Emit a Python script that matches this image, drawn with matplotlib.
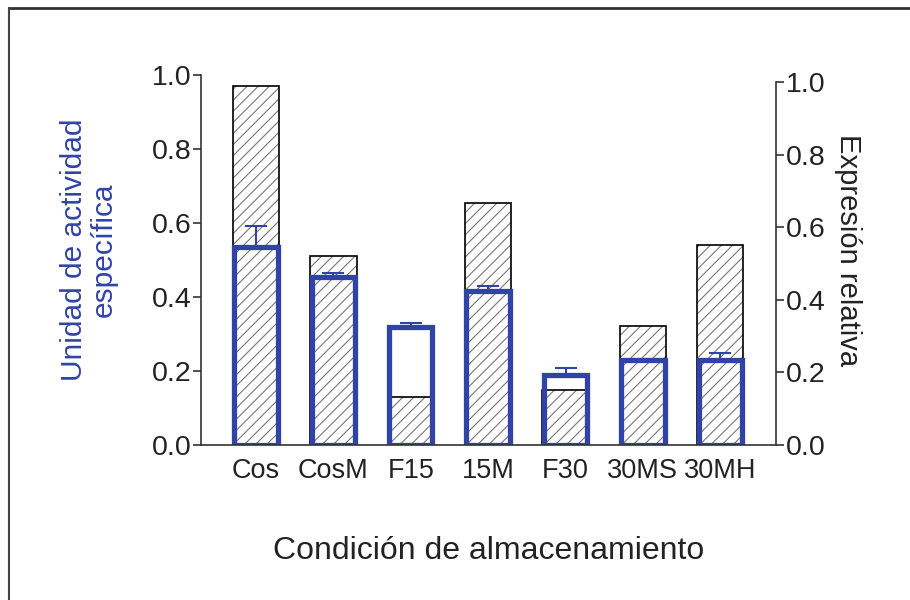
import numpy as np
import matplotlib.pyplot as plt
from matplotlib.lines import Line2D

# data
conditions = ['Cos', 'CosM', 'F15', '15M', 'F30', '30MS', '30MH']
actividad = [0.536, 0.453, 0.318, 0.415, 0.189, 0.229, 0.229]
actividad_err = [0.057, 0.013, 0.013, 0.016, 0.020, 0.004, 0.020]
expresion = [0.99, 0.52, 0.133, 0.668, 0.152, 0.329, 0.55]

blue = '#3243A8'
plt.rcParams['font.family'] = ['Liberation Sans', 'DejaVu Sans']
plt.rcParams['hatch.linewidth'] = 0.8

fig = plt.figure(figsize=(9.1, 6), dpi=100)
ax = fig.add_axes([201 / 910, 1 - 445 / 600, 575 / 910, 370 / 600])
ax2 = ax.twinx()

x = np.arange(len(conditions))

# hatched bars (expresion relativa, right axis)
ax2.bar(x, expresion, width=0.6, color='white', edgecolor='#777777',
        hatch='///', linewidth=0)
ax2.bar(x, expresion, width=0.6, fill=False, edgecolor='black', linewidth=1.2)
ax2.set_ylim(0, 1 / 0.981)
ax2.set_yticks([0.0, 0.2, 0.4, 0.6, 0.8, 1.0])
ax2.set_yticklabels(['0.0', '0.2', '0.4', '0.6', '0.8', '1.0'])

# blue outlined bars (actividad, left axis) on top
ax.set_zorder(ax2.get_zorder() + 1)
ax.patch.set_visible(False)
ax.bar(x, actividad, width=0.56, fill=False, edgecolor=blue, linewidth=3.8)
ax.errorbar(x, actividad, yerr=[np.zeros(len(x)), actividad_err], fmt='none',
            ecolor=blue, elinewidth=1.5, capsize=8, capthick=1.5)
ax.set_ylim(0, 1.0)
ax.set_yticks([0.0, 0.2, 0.4, 0.6, 0.8, 1.0])
ax.set_yticklabels(['0.0', '0.2', '0.4', '0.6', '0.8', '1.0'])
ax.set_xlim(-0.71, 6.72)
ax.set_xticks(x)
ax.set_xticklabels(conditions)

for a in (ax, ax2):
    a.spines['top'].set_visible(False)
    for s in a.spines.values():
        s.set_linewidth(1.2)
        s.set_color('#333333')
    a.tick_params(axis='y', labelsize=20.5, length=6, width=1.2, color='#333333',
                  labelcolor='#222222', pad=1)
ax.spines['right'].set_visible(False)
ax2.spines['left'].set_visible(False)
ax2.spines['bottom'].set_visible(False)
ax2.spines['right'].set_bounds(0, 1.0)
ax.tick_params(axis='x', labelsize=19.5, length=0, pad=9, labelcolor='#222222')

ax.set_xlabel('Condición de almacenamiento', fontsize=23, labelpad=38, color='#222222')

fig.text(89 / 910, 1 - 250 / 600, 'Unidad de actividad\nespecífica', color=blue,
         fontsize=21.5, rotation=90, ha='center', va='center',
         multialignment='center', linespacing=1.05)
fig.text(848 / 910, 1 - 250 / 600, 'Expresión relativa', color='#222222',
         fontsize=21, rotation=270, ha='center', va='center')

# frame of the scanned figure
fig.add_artist(Line2D([9 / 910, 1.0], [1 - 8 / 600, 1 - 8 / 600], color='#333333', linewidth=2))
fig.add_artist(Line2D([9 / 910, 9 / 910], [0, 1 - 8 / 600], color='#444444', linewidth=1.5))

fig.savefig('out.png', dpi=100)
